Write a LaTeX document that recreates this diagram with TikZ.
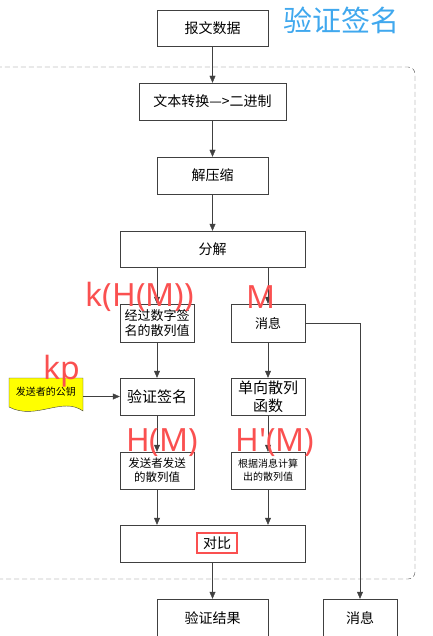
\documentclass[tikz,border=0pt]{standalone}
\usepackage{fontspec}
\setmainfont{Noto Sans CJK SC}
\newfontfamily\labelfont{Noto Sans}
\usepackage{tikz}
\usetikzlibrary{arrows.meta}
\definecolor{mycyan}{RGB}{64,168,238}
\definecolor{myred}{RGB}{250,80,80}
\definecolor{myyellow}{RGB}{255,255,0}
\colorlet{myline}{black!75}

\tikzset{
	box/.style={draw=myline, thin, fill=white, inner sep=1pt, align=center,
		font=\fontsize{14}{18}\selectfont},
	small/.style={box, minimum width=74pt, minimum height=38pt},
	flow/.style={draw=myline, thin, -{Triangle[length=7pt,width=6pt]}},
	redlabel/.style={text=myred, font=\labelfont\fontsize{32}{32}\selectfont}
}

\begin{document}
\begin{tikzpicture}[x=1pt, y=-1pt]
		\useasboundingbox (0,0) rectangle (432,636);
		
		% Dashed frame
		\draw[dashed, dash pattern=on 5pt off 3pt, draw=black!70, rounded corners=7pt] (-12,67) rectangle (415,579);
		
		% Title
		\node[text=mycyan, font=\fontsize{29}{29}\selectfont] (title) at (341,20) {验证签名};
		
		% Main column
		\node[box, minimum width=111pt, minimum height=36pt] (data) at (212.5,28) {报文数据};
		\node[box, minimum width=147pt, minimum height=37pt] (bin) at (212.5,101.5) {文本转换—>二进制};
		\node[box, minimum width=111pt, minimum height=37pt] (unzip) at (212.5,175.5) {解压缩};
		\node[box, minimum width=185pt, minimum height=36pt] (split) at (212.5,249) {分解};
		
		% Left branch
		\node[small, font=\fontsize{13}{15}\selectfont] (sig) at (157,323) {经过数字签\\名的散列值};
		\node[small, minimum height=37pt, font=\fontsize{15}{18}\selectfont] (verify) at (157,396.5) {验证签名};
		\node[small, minimum height=37pt, font=\fontsize{11.5}{14}\selectfont] (hm) at (157,470.5) {发送者发送\\的散列值};
		
		% Right branch
		\node[small, font=\fontsize{13}{15}\selectfont] (msg) at (268,323) {消息};
		\node[small, minimum height=37pt, font=\fontsize{15}{18}\selectfont] (hash) at (268,396.5) {单向散列\\函数};
		\node[small, minimum height=37pt, font=\fontsize{10}{13}\selectfont] (hmm) at (268,470.5) {根据消息计算\\出的散列值};
		
		% Compare and results
		\node[box, minimum width=185pt, minimum height=37pt] (cmp) at (212.5,543.5) {};
		\node[draw=myred, line width=1.6pt, inner sep=1pt, minimum width=40pt, minimum height=20pt,
			font=\fontsize{14}{18}\selectfont] (cmptext) at (217,543) {对比};
		\node[box, minimum width=111pt, minimum height=38pt] (result) at (212.5,618) {验证结果};
		\node[box, minimum width=74pt, minimum height=38pt] (out) at (360,618) {消息};
		
		% Public key (document shape)
		\draw[draw=myline, thin, fill=myyellow] (9,378) -- (83,378) -- (83,411)
			.. controls (62,396) and (36,421) .. (9,407) -- cycle;
		\node[font=\fontsize{10}{12}\selectfont] (key) at (46,392) {发送者的公钥};
		\coordinate (keyout) at (83,396.5);
		
		% Arrows
		\draw[flow] (data) -- (bin);
		\draw[flow] (bin) -- (unzip);
		\draw[flow] (unzip) -- (split);
		\draw[flow] (split.south -| sig) -- (sig);
		\draw[flow] (split.south -| msg) -- (msg);
		\draw[flow] (sig) -- (verify);
		\draw[flow] (msg) -- (hash);
		\draw[flow] (keyout) -- (verify);
		\draw[flow] (verify) -- (hm);
		\draw[flow] (hash) -- (hmm);
		\draw[flow] (hm) -- (hm |- cmp.north);
		\draw[flow] (hmm) -- (hmm |- cmp.north);
		\draw[flow] (cmp) -- (result);
		\draw[flow] (msg.east) -| (out.north);
		
		% Labels
		\node[redlabel] (lsig) at (140,297) {k(H(M))};
		\node[redlabel] (lmsg) at (261,297) {M};
		\node[redlabel] (lkey) at (62,371) {kp};
		\node[redlabel] (lhm) at (162,443) {H(M)};
		\node[redlabel] (lhmm) at (275,443) {H\textquotesingle(M)};
	\end{tikzpicture}
\end{document}
